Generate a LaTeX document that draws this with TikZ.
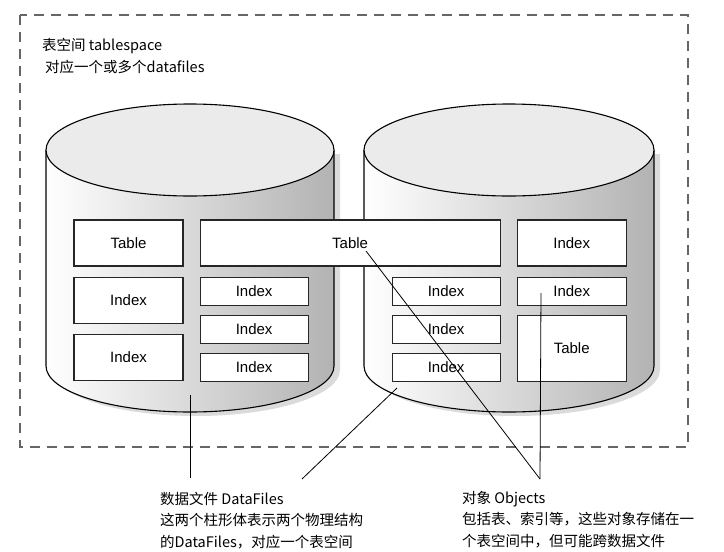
\documentclass[tikz,border=0pt]{standalone}
\usepackage{fontspec}
\setmainfont{Noto Sans CJK SC}
\newfontfamily\boxfont{Liberation Sans}
\usepackage{tikz}
\usetikzlibrary{positioning}
\tikzset{basic/.style={draw=black!85,line width=1.1pt,fill=white,inner sep=0pt,font=\boxfont\fontsize{15}{18}\selectfont}}
\tikzset{big/.style={basic,minimum width=109pt,minimum height=46pt}}
\tikzset{small/.style={basic,minimum width=108pt,minimum height=28pt}}
\tikzset{note/.style={align=left,anchor=base west,inner sep=0pt,font=\fontsize{14.5}{21.5}\selectfont}}
\tikzstyle{pointer}=[draw, line width=0.8pt]
\tikzstyle{frame}=[draw=black!60, line width=1.3pt, dash pattern=on 10pt off 7pt]

\begin{document}
\begin{tikzpicture}[x=1pt,y=1pt]
        \useasboundingbox (0,0) rectangle (724,-552);
        \draw[frame] (20,-15) rectangle (688,-447);

        % the two data files
        \foreach \cx/\rx in {190/144,509/145} {
            \fill[black!14] (\cx-\rx+6,-154) -- (\cx-\rx+6,-370) arc[start angle=180,end angle=360,x radius=\rx pt,y radius=46pt] -- (\cx+\rx+6,-154) -- cycle;
            \path[draw,line width=1.1pt,left color=white,right color=black!30] (\cx-\rx,-150) -- (\cx-\rx,-366) arc[start angle=180,end angle=360,x radius=\rx pt,y radius=46pt] -- (\cx+\rx,-150);
            \draw[line width=1.1pt,fill=black!8] (\cx,-150) ellipse[x radius=\rx pt,y radius=46pt];
        }

        % objects
        \node[big] (tA) at (128.5,-243) {Table};
        \node[big,below=10pt of tA] (iA1) {Index};
        \node[big,below=10pt of iA1] (iA2) {Index};
        \node[basic,minimum width=300pt,minimum height=46pt,right=16pt of tA] (tW) {Table};
            \node[small,below right=10pt and 0pt of tW.south west] (iB1) {Index};
            \node[small,below=9pt of iB1] (iB2) {Index};
            \node[small,below=9pt of iB2] (iB3) {Index};
            \node[small,below left=10pt and 0pt of tW.south east] (iC1) {Index};
            \node[small,below=9pt of iC1] (iC2) {Index};
            \node[small,below=9pt of iC2] (iC3) {Index};
        \node[big,right=16pt of tW] (iD1) {Index};
        \node[big,minimum height=28pt,below=10pt of iD1] (iD2) {Index};
        \node[big,minimum height=66pt,below=9pt of iD2] (tD) {Table};

        % labels (base = last line)
        \node[note] (space) at (42,-72) {表空间 tablespace\\\hspace{3pt}对应一个或多个datafiles};
        \node[note] (files) at (160,-547) {数据文件 DataFiles\\这两个柱形体表示两个物理结构\\的DataFiles，对应一个表空间};
        \node[note] (objs) at (462,-546) {对象 Objects\\包括表、索引等，这些对象存储在一\\个表空间中，但可能跨数据文件};

        \coordinate (dfA) at (190,-395);
        \coordinate (dfB) at (397,-388);
        \coordinate (dfEndA) at (190,-478);
        \coordinate (dfEndB) at (302,-479);
        \coordinate (tWpt) at (366,-251);
        \coordinate (iD2pt) at (541,-293);
        \coordinate (objEnd) at (540,-479);
            \path[pointer] (dfA) -- (dfEndA);
            \path[pointer] (dfB) -- (dfEndB);
            \path[pointer] (tWpt) -- (objEnd);
            \path[pointer] (iD2pt) -- (objEnd);
    \end{tikzpicture}
\end{document}
